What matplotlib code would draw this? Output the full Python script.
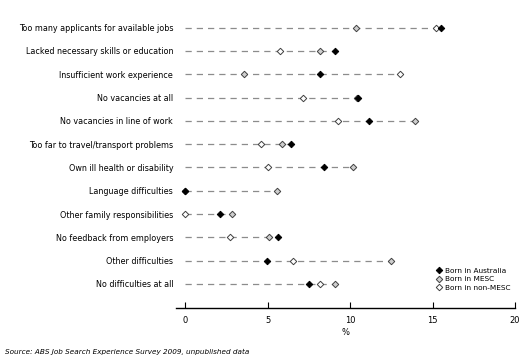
import matplotlib
matplotlib.use("Agg")
import matplotlib.pyplot as plt
import numpy as np

categories = [
    "Too many applicants for available jobs",
    "Lacked necessary skills or education",
    "Insufficient work experience",
    "No vacancies at all",
    "No vacancies in line of work",
    "Too far to travel/transport problems",
    "Own ill health or disability",
    "Language difficulties",
    "Other family responsibilities",
    "No feedback from employers",
    "Other difficulties",
    "No difficulties at all",
]
born_australia = [15.5, 9.1, 8.2, 10.5, 11.15, 6.45, 8.45, 0.0, 2.1, 5.65, 4.95, 7.5]
born_mesc      = [10.35, 8.2, 3.6, 10.4, 13.95, 5.85, 10.15, 5.55, 2.85, 5.1, 12.5, 9.1]
born_non_mesc  = [15.2, 5.75, 13.05, 7.15, 9.25, 4.6, 5.05, 0.0, 0.0, 2.75, 6.55, 8.2]
xticks = [0, 5, 10, 15, 20]

plt.rcParams['font.family'] = ['DejaVu Sans']
fig = plt.figure(figsize=(5.29, 3.63), dpi=100)
ax = fig.add_axes([176/529, 1-308/363, (515-176)/529, (308-16)/363])

y = np.arange(len(categories))
for i in range(len(categories)):
    mx = max(born_australia[i], born_mesc[i], born_non_mesc[i])
    ax.plot([0, mx], [y[i], y[i]], color='#8c8c8c', lw=0.9, dashes=(5, 4), zorder=1)

ms = 3.3
ax.plot(born_non_mesc, y, 'D', ms=ms, mfc='white', mec='#404040', mew=0.7, ls='none', zorder=3, label='Born in non-MESC')
ax.plot(born_mesc, y, 'D', ms=ms, mfc='#cfcfcf', mec='#404040', mew=0.7, ls='none', zorder=4, label='Born in MESC')
ax.plot(born_australia, y, 'D', ms=ms, mfc='black', mec='black', mew=0.7, ls='none', zorder=5, label='Born in Australia')

ax.set_xlim(-0.55, 20)
ax.set_ylim(len(categories) - 1 + 1.03, -0.5)
ax.set_yticks(y)
ax.set_yticklabels(categories, fontsize=5.75)
ax.tick_params(axis='y', length=0, pad=2)
ax.set_xticks(xticks)
ax.set_xticklabels([str(t) for t in xticks], fontsize=6)
ax.tick_params(axis='x', direction='in', length=4, width=0.8, pad=6)
for s in ['top', 'right', 'left']:
    ax.spines[s].set_visible(False)
ax.spines['bottom'].set_linewidth(1.0)
ax.set_xlabel('%', fontsize=6, labelpad=2)

handles, labels = ax.get_legend_handles_labels()
order = [2, 1, 0]
leg = fig.legend([handles[k] for k in order], [labels[k] for k in order],
                 loc='upper left', bbox_to_anchor=(433/529, 1-264/363),
                 frameon=False, fontsize=5.3, handlelength=0.6, handletextpad=0.5,
                 labelspacing=0.3, borderpad=0)

fig.text(5/529, 1-352/363, 'Source: ABS Job Search Experience Survey 2009, unpublished data',
         fontsize=5.2, style='italic', va='center', ha='left')

fig.savefig('out.png', dpi=100)
